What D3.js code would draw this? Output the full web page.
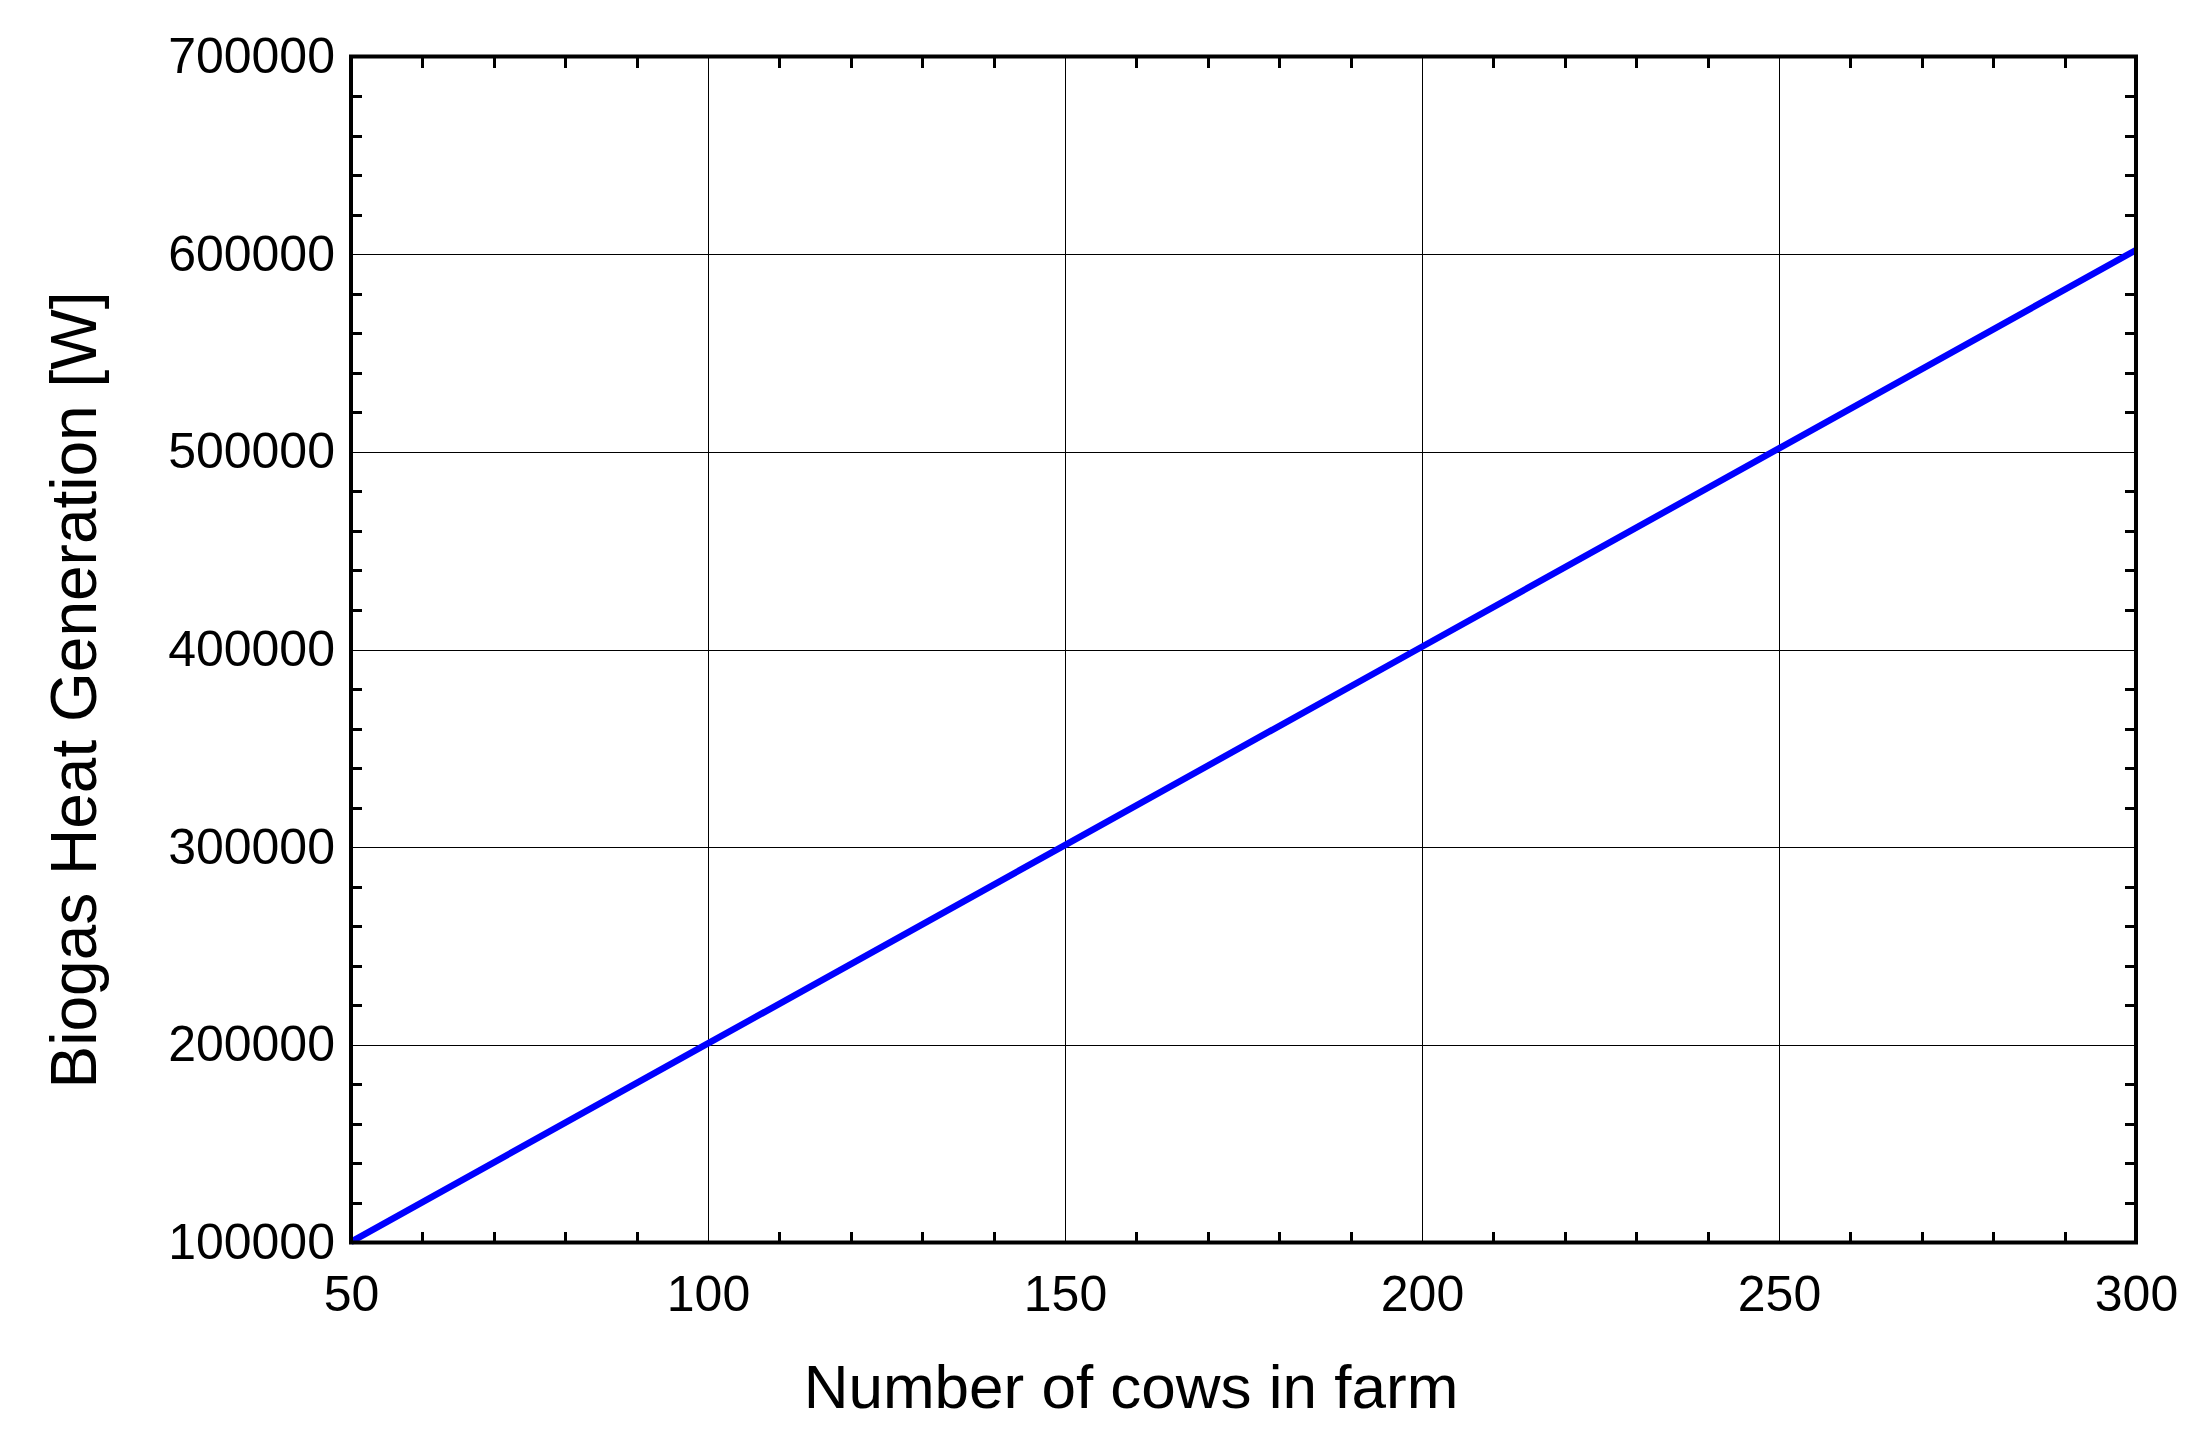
<!DOCTYPE html>
<html>
<head>
<meta charset="utf-8">
<script src="https://cdn.jsdelivr.net/npm/d3@7"></script>
<style>
  body { margin: 0; background: #fff; }
  text { font-family: "Liberation Sans", Arial, sans-serif; fill: #000; }
</style>
</head>
<body>
<div id="chart"></div>
<script>
// data
var cows = [50, 100, 150, 200, 250, 300];
var heatW = [100350, 200700, 301050, 401400, 501750, 602100];
var xTicks = [50, 100, 150, 200, 250, 300];
var yTicks = [100000, 200000, 300000, 400000, 500000, 600000, 700000];

var svgWidth = 2204;
var svgHeight = 1448;

var margin = { top: 56.5, right: 68, bottom: 205.5, left: 351 };
var width = svgWidth - margin.left - margin.right;
var height = svgHeight - margin.top - margin.bottom;

var svg = d3.select("#chart")
  .append("svg")
  .attr("width", svgWidth)
  .attr("height", svgHeight);

svg.append("rect")
  .attr("width", svgWidth)
  .attr("height", svgHeight)
  .attr("fill", "#fff");

var chartGroup = svg.append("g")
  .attr("transform", `translate(${margin.left}, ${margin.top})`);

var xScale = d3.scaleLinear().domain([50, 300]).range([0, width]);
var yScale = d3.scaleLinear().domain([100000, 700000]).range([height, 0]);

// minor ticks (majors are covered by grid lines)
var xMinor = xScale.ticks(25).filter(d => xTicks.indexOf(d) < 0);
var yMinor = yScale.ticks(30).filter(d => yTicks.indexOf(d) < 0);

// grid lines
var xGrid = chartGroup.append("g")
  .attr("transform", `translate(0, ${height})`)
  .call(d3.axisBottom(xScale).tickValues(xTicks).tickSize(-height).tickFormat(""));
var yGrid = chartGroup.append("g")
  .call(d3.axisLeft(yScale).tickValues(yTicks).tickSize(-width).tickFormat(""));
[xGrid, yGrid].forEach(function(g) {
  g.select(".domain").remove();
  g.selectAll("line")
    .attr("stroke", "#000")
    .attr("stroke-width", 1)
    .attr("shape-rendering", "crispEdges");
});

// the series line
var line = d3.line()
  .x((d, i) => xScale(cows[i]))
  .y(d => yScale(d));

chartGroup.append("path")
  .datum(heatW)
  .attr("fill", "none")
  .attr("stroke", "#0000ff")
  .attr("stroke-width", 6.5)
  .attr("d", line);

// frame
chartGroup.append("rect")
  .attr("width", width)
  .attr("height", height)
  .attr("fill", "none")
  .attr("stroke", "#000")
  .attr("stroke-width", 4);

// inward minor ticks on all four sides
var minorAxes = [
  { axis: d3.axisBottom(xScale).tickValues(xMinor), t: `translate(0, ${height})` },
  { axis: d3.axisTop(xScale).tickValues(xMinor), t: "translate(0, 0)" },
  { axis: d3.axisLeft(yScale).tickValues(yMinor), t: "translate(0, 0)" },
  { axis: d3.axisRight(yScale).tickValues(yMinor), t: `translate(${width}, 0)` }
];
minorAxes.forEach(function(m) {
  var g = chartGroup.append("g")
    .attr("transform", m.t)
    .call(m.axis.tickSizeInner(-11).tickSizeOuter(0).tickFormat(""));
  g.select(".domain").remove();
  g.selectAll("line")
    .attr("stroke", "#000")
    .attr("stroke-width", 3)
    .attr("shape-rendering", "crispEdges");
});

// tick labels
var xLabels = chartGroup.append("g")
  .attr("transform", `translate(0, ${height})`)
  .call(d3.axisBottom(xScale).tickValues(xTicks).tickSize(0).tickPadding(33).tickFormat(d3.format("d")));
var yLabels = chartGroup.append("g")
  .call(d3.axisLeft(yScale).tickValues(yTicks).tickSize(0).tickPadding(16).tickFormat(d3.format("d")));
[xLabels, yLabels].forEach(function(g) {
  g.select(".domain").remove();
  g.selectAll("text")
    .attr("font-family", "Liberation Sans, Arial, sans-serif")
    .attr("font-size", 50)
    .attr("fill", "#000");
});

// axis titles
svg.append("text")
  .attr("x", 1131)
  .attr("y", 1408)
  .attr("text-anchor", "middle")
  .attr("font-size", 62)
  .text("Number of cows in farm");

svg.append("text")
  .attr("transform", "translate(96, 690) rotate(-90)")
  .attr("text-anchor", "middle")
  .attr("font-size", 64)
  .text("Biogas Heat Generation [W]");
</script>
</body>
</html>
